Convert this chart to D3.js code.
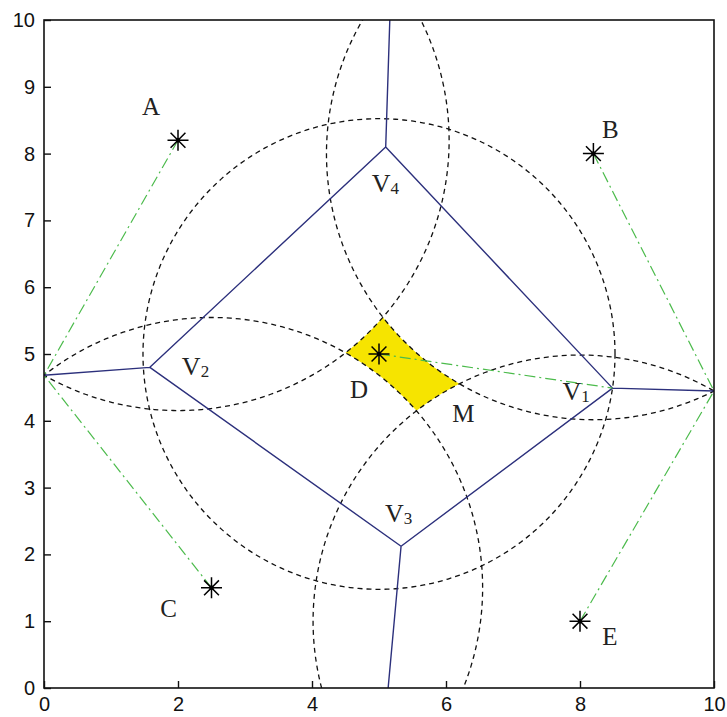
<!DOCTYPE html>
<html>
<head>
<meta charset="utf-8">
<script src="https://cdn.jsdelivr.net/npm/d3@7"></script>
<style>
  body { margin: 0; background: #fff; }
  svg { display: block; }
</style>
</head>
<body>
<svg id="chart" width="727" height="717"></svg>
<script>
// ---- data ----
const siteNames = ["A", "B", "C", "D", "E"];
const siteX = [2.0, 8.2, 2.5, 5.0, 8.0];
const siteY = [8.2, 8.0, 1.5, 5.0, 1.0];
const centerSite = 3;                       // D sits inside the diamond cell
const vertexNames = ["V1", "V2", "V3", "V4"]; // right, left, bottom, top vertex of D's cell
const regionName = "M";
const xTicks = [0, 2, 4, 6, 8, 10];
const yTicks = [0, 1, 2, 3, 4, 5, 6, 7, 8, 9, 10];
const extent = [0, 0, 10, 10];

// ---- layout ----
const svg = d3.select("#chart");
const x = d3.scaleLinear().domain([0, 10]).range([44, 714]);
const y = d3.scaleLinear().domain([0, 10]).range([688, 20]);

const serif = "'Liberation Serif', 'Times New Roman', serif";
const sans = "'Liberation Sans', Arial, sans-serif";

svg.append("defs").append("clipPath").attr("id", "plot-clip")
  .append("rect")
  .attr("x", x(0)).attr("y", y(10))
  .attr("width", x(10) - x(0)).attr("height", y(0) - y(10));

const plot = svg.append("g").attr("clip-path", "url(#plot-clip)");

// ---- Voronoi diagram of the sites ----
const pts = siteX.map((d, i) => [d, siteY[i]]);
const delaunay = d3.Delaunay.from(pts);
const voronoi = delaunay.voronoi(extent);

// farthest corner of each cell gives the covering radius of that site
const cover = pts.map((p, i) => {
  const poly = voronoi.cellPolygon(i);
  let best = null, bd = -1;
  for (const q of poly) {
    const d = Math.hypot(q[0] - p[0], q[1] - p[1]);
    if (d > bd) { bd = d; best = q; }
  }
  return { site: p, far: best, r: bd };
});

const line = d3.line().x(d => x(d[0])).y(d => y(d[1]));

function arcPoints(c, r, a0, a1, n) {
  const out = [];
  for (let k = 0; k <= n; k++) {
    const a = a0 + (a1 - a0) * k / n;
    out.push([c[0] + r * Math.cos(a), c[1] + r * Math.sin(a)]);
  }
  return out;
}

function intersect(c1, r1, c2, r2, near) {
  const dx = c2[0] - c1[0], dy = c2[1] - c1[1];
  const d = Math.hypot(dx, dy);
  const a = (r1 * r1 - r2 * r2 + d * d) / (2 * d);
  const h = Math.sqrt(Math.max(0, r1 * r1 - a * a));
  const mx = c1[0] + a * dx / d, my = c1[1] + a * dy / d;
  const p1 = [mx + h * dy / d, my - h * dx / d];
  const p2 = [mx - h * dy / d, my + h * dx / d];
  const d1 = Math.hypot(p1[0] - near[0], p1[1] - near[1]);
  const d2 = Math.hypot(p2[0] - near[0], p2[1] - near[1]);
  return d1 < d2 ? p1 : p2;
}

// ---- region outside every outer covering circle, around D ----
const center = pts[centerSite];
const outer = d3.range(pts.length).filter(i => i !== centerSite)
  .sort((i, j) => Math.atan2(pts[j][1] - center[1], pts[j][0] - center[0]) -
                  Math.atan2(pts[i][1] - center[1], pts[i][0] - center[0]));
const corners = outer.map((i, k) => {
  const j = outer[(k + 1) % outer.length];
  return intersect(pts[i], cover[i].r, pts[j], cover[j].r, center);
});
let regionPts = [];
outer.forEach((i, k) => {
  const from = corners[(k - 1 + outer.length) % outer.length];
  const to = corners[k];
  const c = pts[i];
  let a0 = Math.atan2(from[1] - c[1], from[0] - c[0]);
  let a1 = Math.atan2(to[1] - c[1], to[0] - c[0]);
  while (a1 - a0 > Math.PI) a1 -= 2 * Math.PI;
  while (a0 - a1 > Math.PI) a1 += 2 * Math.PI;
  regionPts = regionPts.concat(arcPoints(c, cover[i].r, a0, a1, 40));
});
plot.append("path")
  .attr("d", line(regionPts) + "Z")
  .attr("fill", "#f6e400")
  .attr("stroke", "none");

// ---- covering circles ----
plot.selectAll("path.cover")
  .data(cover)
  .join("path")
  .attr("class", "cover")
  .attr("d", c => line(arcPoints(c.site, c.r, 0, 2 * Math.PI, 360)))
  .attr("fill", "none")
  .attr("stroke", "#111")
  .attr("stroke-width", 1.3)
  .attr("stroke-dasharray", "5,4");

// ---- Voronoi edges ----
const vpath = d3.path();
voronoi.render({
  moveTo: (a, b) => vpath.moveTo(x(a), y(b)),
  lineTo: (a, b) => vpath.lineTo(x(a), y(b)),
  closePath: () => vpath.closePath()
});
plot.append("path")
  .attr("d", vpath.toString())
  .attr("fill", "none")
  .attr("stroke", "#2c307c")
  .attr("stroke-width", 1.4);

// ---- radius segments from each site to its farthest cell corner ----
plot.selectAll("line.radius")
  .data(cover)
  .join("line")
  .attr("class", "radius")
  .attr("x1", c => x(c.site[0])).attr("y1", c => y(c.site[1]))
  .attr("x2", c => x(c.far[0])).attr("y2", c => y(c.far[1]))
  .attr("stroke", "#4cbb4c")
  .attr("stroke-width", 1.2)
  .attr("stroke-dasharray", "11,4,2,4");

// ---- site markers (asterisks) ----
const star = 10.5;
const starPath = (cx, cy) => {
  const p = d3.path();
  for (let k = 0; k < 4; k++) {
    const a = k * Math.PI / 4;
    p.moveTo(cx - star * Math.cos(a), cy - star * Math.sin(a));
    p.lineTo(cx + star * Math.cos(a), cy + star * Math.sin(a));
  }
  return p.toString();
};
svg.selectAll("path.site")
  .data(pts)
  .join("path")
  .attr("class", "site")
  .attr("d", p => starPath(x(p[0]), y(p[1])))
  .attr("stroke", "#000")
  .attr("stroke-width", 1.5)
  .attr("fill", "none");
svg.selectAll("circle.site-dot")
  .data(pts)
  .join("circle")
  .attr("class", "site-dot")
  .attr("cx", p => x(p[0])).attr("cy", p => y(p[1]))
  .attr("r", 2.2).attr("fill", "#000");

// ---- axes ----
const axisX = d3.axisBottom(x).tickValues(xTicks).tickSizeInner(-7).tickSizeOuter(0).tickPadding(9);
const axisY = d3.axisLeft(y).tickValues(yTicks).tickSizeInner(-7).tickSizeOuter(0).tickPadding(9);
const gx = svg.append("g").attr("transform", `translate(0,${y(0)})`).call(axisX);
const gy = svg.append("g").attr("transform", `translate(${x(0)},0)`).call(axisY);
[gx, gy].forEach(g => {
  g.select(".domain").remove();
  g.selectAll(".tick line").attr("stroke", "#111").attr("stroke-width", 1.4);
  g.selectAll(".tick text").attr("fill", "#111")
    .style("font-family", sans).style("font-size", "20px");
});
svg.append("rect")
  .attr("x", x(0)).attr("y", y(10))
  .attr("width", x(10) - x(0)).attr("height", y(0) - y(10))
  .attr("fill", "none").attr("stroke", "#111").attr("stroke-width", 1.6);

// ---- labels ----
const siteLabelOffset = [[-27, -25], [17, -16], [-43, 29], [-20, 44], [30, 24]];
svg.selectAll("text.site-label")
  .data(pts)
  .join("text")
  .attr("class", "site-label")
  .attr("x", (p, i) => x(p[0]) + siteLabelOffset[i][0])
  .attr("y", (p, i) => y(p[1]) + siteLabelOffset[i][1])
  .attr("text-anchor", "middle")
  .style("font-family", serif).style("font-size", "25px").attr("fill", "#222")
  .text((p, i) => siteNames[i]);

// vertices of D's cell: right, left, bottom, top
const cellD = voronoi.cellPolygon(centerSite).slice(0, -1);
const vRight = cellD.reduce((a, b) => b[0] > a[0] ? b : a);
const vLeft = cellD.reduce((a, b) => b[0] < a[0] ? b : a);
const vBottom = cellD.reduce((a, b) => b[1] < a[1] ? b : a);
const vTop = cellD.reduce((a, b) => b[1] > a[1] ? b : a);
const vertices = [vRight, vLeft, vBottom, vTop];
const vertexLabelOffset = [[-50, 12], [32, 8], [-16, -24], [-14, 45]];
const vl = svg.selectAll("text.vertex-label")
  .data(vertices)
  .join("text")
  .attr("class", "vertex-label")
  .attr("x", (v, i) => x(v[0]) + vertexLabelOffset[i][0])
  .attr("y", (v, i) => y(v[1]) + vertexLabelOffset[i][1])
  .style("font-family", serif).style("font-size", "26px").attr("fill", "#222");
vl.append("tspan").text((v, i) => vertexNames[i].charAt(0));
vl.append("tspan").attr("dy", 2).style("font-size", "17px").text((v, i) => vertexNames[i].slice(1));

// region label next to its right-hand corner
const rightCorner = corners.reduce((a, b) => b[0] > a[0] ? b : a);
svg.append("text")
  .attr("x", x(rightCorner[0]) + 4)
  .attr("y", y(rightCorner[1]) + 38)
  .attr("text-anchor", "middle")
  .style("font-family", serif).style("font-size", "25px").attr("fill", "#222")
  .text(regionName);
</script>
</body>
</html>
